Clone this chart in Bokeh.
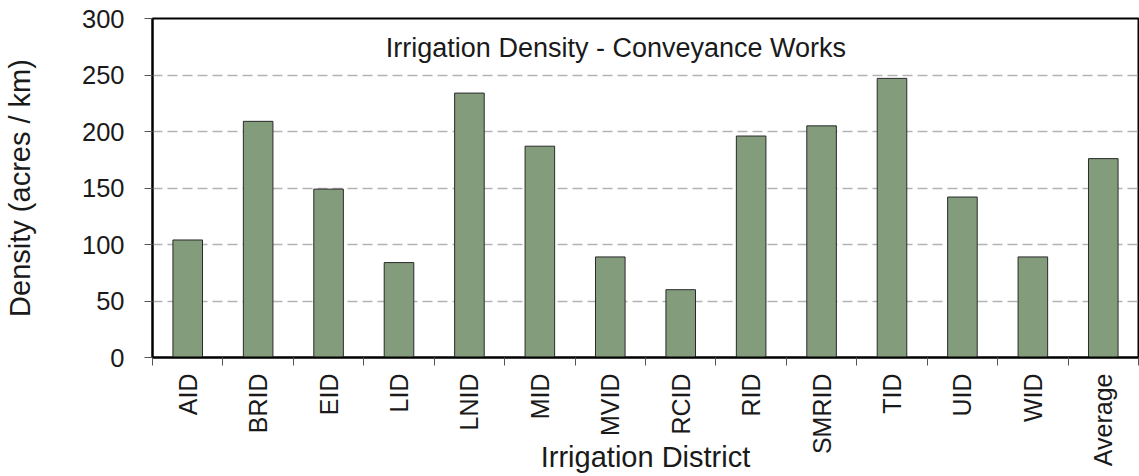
from math import pi
from bokeh.plotting import figure
from bokeh.models import ColumnDataSource, FixedTicker, Label, Range1d
from bokeh.embed import file_html
from bokeh.resources import INLINE

districts = ["AID", "BRID", "EID", "LID", "LNID", "MID", "MVID", "RCID",
             "RID", "SMRID", "TID", "UID", "WID", "Average"]
density = [104, 209, 149, 84, 234, 187, 89, 60, 196, 205, 247, 142, 89, 176]

y_ticks = [0, 50, 100, 150, 200, 250, 300]

n = len(districts)
centers = [i + 0.5 for i in range(n)]
bounds = [float(i) for i in range(n + 1)]

src = ColumnDataSource(dict(x=centers, top=density, name=districts))

p = figure(width=1139, height=476, output_backend="svg", toolbar_location=None,
           x_range=Range1d(0, n), y_range=Range1d(0, 300),
           min_border_left=151, min_border_right=1, min_border_top=18,
           min_border_bottom=118)

p.vbar(x="x", top="top", width=0.42, bottom=0, source=src,
       fill_color="#839c7c", line_color="#2a2a2a", line_width=1)

FONT = "Liberation Sans"

# X axis
xa = p.xaxis[0]
xa.ticker = FixedTicker(ticks=centers, minor_ticks=bounds)
xa.major_label_overrides = {c: d for c, d in zip(centers, districts)}
xa.major_label_orientation = pi / 2
xa.major_tick_line_color = None
xa.minor_tick_in = 0
xa.minor_tick_out = 8
xa.minor_tick_line_color = "#555555"
xa.minor_tick_line_width = 1
xa.axis_line_color = "black"
xa.axis_line_width = 2
xa.major_label_text_font = FONT
xa.major_label_text_font_size = "25px"
xa.major_label_text_color = "#1a1a1a"
xa.major_label_standoff = 8
xa.axis_label = "Irrigation District"
xa.axis_label_text_font = FONT
xa.axis_label_text_font_size = "29px"
xa.axis_label_text_font_style = "normal"
xa.axis_label_text_color = "#1a1a1a"
xa.axis_label_standoff = -28

# Y axis
ya = p.yaxis[0]
ya.ticker = FixedTicker(ticks=y_ticks)
ya.minor_tick_line_color = None
ya.major_tick_in = 0
ya.major_tick_out = 8
ya.major_tick_line_color = "#555555"
ya.axis_line_color = "black"
ya.axis_line_width = 2
ya.major_label_text_font = FONT
ya.major_label_text_font_size = "25.5px"
ya.major_label_text_color = "#1a1a1a"
ya.major_label_standoff = 20
ya.axis_label = "Density (acres / km)"
ya.axis_label_text_font = FONT
ya.axis_label_text_font_size = "29px"
ya.axis_label_text_font_style = "normal"
ya.axis_label_text_color = "#1a1a1a"
ya.axis_label_standoff = 43

# Grid
p.xgrid.grid_line_color = None
p.ygrid.ticker = FixedTicker(ticks=[50, 100, 150, 200, 250])
p.ygrid.grid_line_color = "#b3b3b3"
p.ygrid.grid_line_width = 1.5
p.ygrid.grid_line_dash = "10 5"

p.outline_line_color = "black"
p.outline_line_width = 2
p.background_fill_color = "white"
p.border_fill_color = "white"

title = Label(x=6.58, y=274, text="Irrigation Density - Conveyance Works",
              text_font=FONT, text_font_size="27px", text_color="#1a1a1a",
              text_align="center", text_baseline="middle")
p.add_layout(title)

open("out.html", "w").write(file_html(p, INLINE))
